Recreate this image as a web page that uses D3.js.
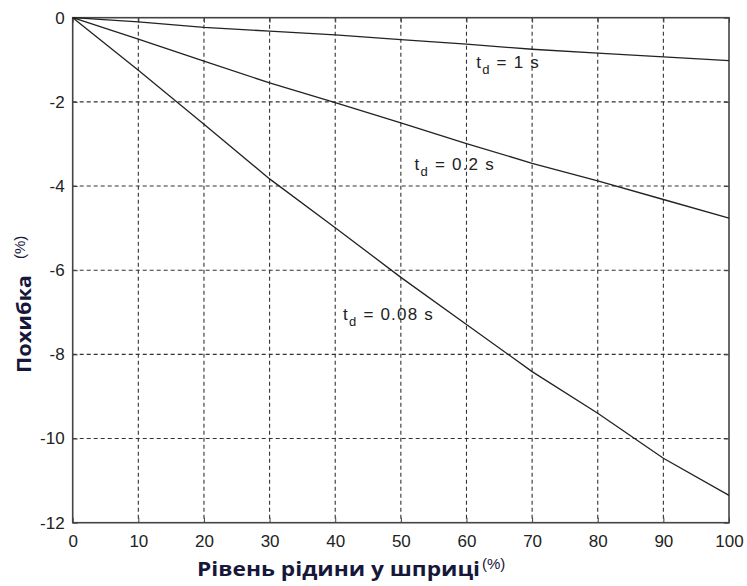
<!DOCTYPE html>
<html>
<head>
<meta charset="utf-8">
<script src="https://cdn.jsdelivr.net/npm/d3@7"></script>
<style>
  html, body { margin: 0; padding: 0; background: #fff; }
  svg { display: block; }
</style>
</head>
<body>
<svg id="chart" width="747" height="586"></svg>
<script>
// Syringe fill level (%) and measurement error (%) for three delay times
const fillLevel = [0, 10, 20, 30, 40, 50, 60, 70, 80, 90, 100];
const errTd1    = [0, -0.10, -0.23, -0.32, -0.41, -0.52, -0.63, -0.75, -0.84, -0.93, -1.02];
const errTd02   = [0, -0.51, -1.03, -1.55, -2.02, -2.50, -2.99, -3.46, -3.88, -4.32, -4.76];
const errTd008  = [0, -1.25, -2.53, -3.83, -4.99, -6.17, -7.29, -8.41, -9.40, -10.47, -11.35];

const seriesNames = ["1 s", "0.2 s", "0.08 s"];
// label anchors in data units (fill level, error)
const labelX = [61.5, 52.1, 41.2];
const labelY = [-1.2, -3.63, -7.18];

const xTicks = [0, 10, 20, 30, 40, 50, 60, 70, 80, 90, 100];
const yTicks = [0, -2, -4, -6, -8, -10, -12];

const xTitle = "Рівень рідини у шприці";
const yTitle = "Похибка";
const unitText = "(%)";

const margin = { left: 72.7, right: 18, top: 17.7, bottom: 63.3 };
const W = 747, H = 586;
const iw = W - margin.left - margin.right;
const ih = H - margin.top - margin.bottom;

const svg = d3.select("#chart");
const g = svg.append("g").attr("transform", `translate(${margin.left},${margin.top})`);

const x = d3.scaleLinear().domain([0, 100]).range([0, iw]);
const y = d3.scaleLinear().domain([-12, 0]).range([ih, 0]);

const ink = "#222";
const tickFont = "'Liberation Sans', Arial, sans-serif";

// series labels (drawn first so the grid runs over them)
const labels = g.append("g");
seriesNames.forEach((name, i) => {
  const t = labels.append("text")
    .attr("x", x(labelX[i]))
    .attr("y", y(labelY[i]))
    .attr("font-family", tickFont)
    .attr("font-size", 17)
    .attr("letter-spacing", 1.2)
    .attr("fill", ink);
  t.append("tspan").text("t");
  t.append("tspan").attr("dy", 6).attr("font-size", 13).text("d");
  t.append("tspan").attr("dy", -6).text(" = " + name);
});

// dashed grid
const grid = g.append("g")
  .attr("stroke", "#333")
  .attr("stroke-width", 1.1)
  .attr("stroke-dasharray", "4,3");
grid.selectAll("line.v").data(xTicks.slice(1, -1)).join("line")
  .attr("x1", d => x(d)).attr("x2", d => x(d))
  .attr("y1", 0).attr("y2", ih);
grid.selectAll("line.h").data(yTicks.slice(1, -1)).join("line")
  .attr("y1", d => y(d)).attr("y2", d => y(d))
  .attr("x1", 0).attr("x2", iw);

// axes with inward ticks
const xAxis = g.append("g").attr("transform", `translate(0,${ih})`)
  .call(d3.axisBottom(x).tickValues(xTicks).tickSizeInner(-5).tickSizeOuter(0).tickPadding(12)
    .tickFormat(d => String(d)));
const yAxis = g.append("g")
  .call(d3.axisLeft(y).tickValues(yTicks).tickSizeInner(-5).tickSizeOuter(0).tickPadding(13)
    .tickFormat(d => String(d)));
g.append("g").attr("transform", `translate(${iw},0)`)
  .call(d3.axisRight(y).tickValues(yTicks).tickSizeInner(-5).tickSizeOuter(0).tickFormat(""));
g.append("g")
  .call(d3.axisTop(x).tickValues(xTicks).tickSizeInner(-5).tickSizeOuter(0).tickFormat(""));

g.selectAll(".domain").remove();
g.selectAll(".tick line").attr("stroke", "#444").attr("stroke-width", 1);
[xAxis, yAxis].forEach(a => a.selectAll("text")
  .attr("font-family", tickFont)
  .attr("font-size", 17)
  .attr("fill", ink));
yAxis.selectAll("text").attr("dx", 5);

// frame
g.append("rect")
  .attr("x", 0).attr("y", 0).attr("width", iw).attr("height", ih)
  .attr("fill", "none").attr("stroke", "#444").attr("stroke-width", 1.6);

// error curves
const line = d3.line().x((d, i) => x(fillLevel[i])).y(d => y(d));
g.selectAll("path.curve").data([errTd1, errTd02, errTd008]).join("path")
  .attr("class", "curve")
  .attr("d", line)
  .attr("fill", "none")
  .attr("stroke", "#222")
  .attr("stroke-width", 1.3);

// axis titles
const titleFont = "'Open Sans', 'Noto Sans', sans-serif";
const titleColor = "#17173a";

svg.append("text")
  .attr("x", 197).attr("y", 576)
  .attr("font-family", titleFont).attr("font-weight", 700).attr("font-size", 20)
  .attr("fill", titleColor)
  .attr("textLength", 283).attr("lengthAdjust", "spacingAndGlyphs")
  .text(xTitle);
svg.append("text")
  .attr("x", 482).attr("y", 569)
  .attr("font-family", tickFont).attr("font-size", 15)
  .attr("fill", titleColor)
  .text(unitText);

const yt = svg.append("g").attr("transform", "translate(31,373) rotate(-90)");
yt.append("text")
  .attr("x", 0).attr("y", 0)
  .attr("font-family", titleFont).attr("font-weight", 700).attr("font-size", 20)
  .attr("fill", titleColor)
  .attr("textLength", 98).attr("lengthAdjust", "spacingAndGlyphs")
  .text(yTitle);
yt.append("text")
  .attr("x", 114).attr("y", -6)
  .attr("font-family", tickFont).attr("font-size", 15)
  .attr("fill", titleColor)
  .text(unitText);
</script>
</body>
</html>
